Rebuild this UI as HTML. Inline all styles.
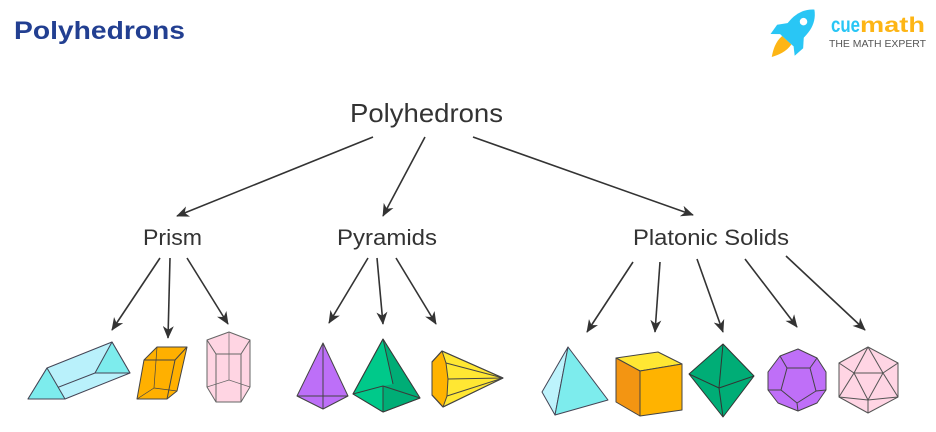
<!DOCTYPE html>
<html>
<head>
<meta charset="utf-8">
<style>
  html,body{margin:0;padding:0;background:#fff;}
  body{width:936px;height:432px;overflow:hidden;}
  svg{display:block;}
  text{font-family:"Liberation Sans", sans-serif;}
</style>
</head>
<body>
<svg width="936" height="432" viewBox="0 0 936 432" xmlns="http://www.w3.org/2000/svg">
  <defs>
    <marker id="ah" viewBox="0 0 14 12" refX="13" refY="6" markerWidth="13" markerHeight="11" markerUnits="userSpaceOnUse" orient="auto">
      <path d="M0,0 L14,6 L0,12 L4,6 Z" fill="#333"/>
    </marker>
  </defs>
  <rect width="936" height="432" fill="#fff"/>

  <!-- Title -->
  <text x="14" y="39" font-size="25" font-weight="bold" fill="#223f91" textLength="171" lengthAdjust="spacingAndGlyphs">Polyhedrons</text>

  <!-- Logo -->
  <g transform="translate(796,30) rotate(42) scale(1.25)">
    <path d="M-5,11 L5,11 C6,18 3,24 0,29 C-3,24 -6,18 -5,11 Z" fill="#fdb515"/>
    <path d="M-6,-3 L-14,7 L-13,16 L-5,9 Z" fill="#29c6f5"/>
    <path d="M6,-3 L14,7 L13,16 L5,9 Z" fill="#29c6f5"/>
    <path d="M0,-22 C10,-14 10,-2 7,11 L-7,11 C-10,-2 -10,-14 0,-22 Z" fill="#29c6f5"/>
    <circle cx="0" cy="-9" r="3" fill="#fff"/>
  </g>
  <text x="831" y="32" font-size="21" font-weight="bold"><tspan fill="#29c6f5" textLength="29" lengthAdjust="spacingAndGlyphs">cue</tspan><tspan fill="#fdb515" x="860" textLength="65" lengthAdjust="spacingAndGlyphs">math</tspan></text>
  <text x="829" y="47" font-size="10" fill="#555" textLength="97" lengthAdjust="spacingAndGlyphs">THE MATH EXPERT</text>

  <!-- Labels -->
  <text x="350" y="122" font-size="26" fill="#333" textLength="153" lengthAdjust="spacingAndGlyphs">Polyhedrons</text>
  <text x="143" y="245" font-size="22" fill="#333" textLength="59" lengthAdjust="spacingAndGlyphs">Prism</text>
  <text x="337" y="245" font-size="22" fill="#333" textLength="100" lengthAdjust="spacingAndGlyphs">Pyramids</text>
  <text x="633" y="245" font-size="22" fill="#333" textLength="156" lengthAdjust="spacingAndGlyphs">Platonic Solids</text>

  <!-- Arrows -->
  <g stroke="#333" stroke-width="1.6" fill="none" marker-end="url(#ah)">
    <line x1="373" y1="137" x2="177" y2="216"/>
    <line x1="425" y1="137" x2="383" y2="216"/>
    <line x1="473" y1="137" x2="693" y2="215"/>

    <line x1="160" y1="258" x2="112" y2="330"/>
    <line x1="170" y1="258" x2="168" y2="338"/>
    <line x1="187" y1="258" x2="228" y2="324"/>

    <line x1="368" y1="258" x2="329" y2="323"/>
    <line x1="377" y1="258" x2="383" y2="324"/>
    <line x1="396" y1="258" x2="436" y2="324"/>

    <line x1="633" y1="262" x2="587" y2="332"/>
    <line x1="660" y1="262" x2="655" y2="332"/>
    <line x1="697" y1="259" x2="723" y2="332"/>
    <line x1="745" y1="259" x2="797" y2="327"/>
    <line x1="786" y1="256" x2="865" y2="330"/>
  </g>

  <!-- Triangular prism -->
  <g stroke="#445" stroke-width="1" stroke-linejoin="round">
    <polygon points="28,399 47,368 112,342 130,373 65,399" fill="#b9f1fb"/>
    <line x1="28" y1="399" x2="95" y2="373"/>
    <polygon points="95,373 112,342 130,373" fill="#7deced"/>
    <polygon points="28,399 47,368 65,399" fill="#7deced"/>
  </g>

  <!-- Parallelepiped -->
  <g stroke="#444" stroke-width="1" stroke-linejoin="round">
    <polygon points="137,399 144,360 157,347 187,347 177,391 167,399" fill="#ffb000"/>
    <polyline points="144,360 175,360 187,347" fill="none"/>
    <line x1="175" y1="360" x2="167" y2="399"/>
    <polyline points="157,347 154,388 177,391" fill="none" stroke-width="0.7"/>
    <line x1="154" y1="388" x2="137" y2="399" stroke-width="0.7"/>
  </g>

  <!-- Pentagonal prism -->
  <g stroke="#666" stroke-width="1" stroke-linejoin="round">
    <polygon points="207,340 229,332 250,340 250,387 241,402 216,402 207,387" fill="#ffd5e3"/>
    <polyline points="207,340 216,354 241,354 250,340" fill="none"/>
    <line x1="216" y1="354" x2="216" y2="402"/>
    <line x1="241" y1="354" x2="241" y2="402"/>
    <line x1="229" y1="332" x2="229" y2="380" stroke-width="0.7"/>
    <polyline points="207,387 229,380 250,387" fill="none" stroke-width="0.7"/>
  </g>

  <!-- Purple pyramid -->
  <g stroke="#444" stroke-width="1" stroke-linejoin="round">
    <polygon points="323,343 297,396 323,409 348,396" fill="#bd6ff8"/>
    <line x1="323" y1="343" x2="323" y2="409"/>
    <line x1="297" y1="396" x2="348" y2="396"/>
  </g>

  <!-- Green pyramid -->
  <g stroke="#3a3a3a" stroke-width="1" stroke-linejoin="round">
    <polygon points="383,339 353,394 383,412 420,398" fill="#00c98a"/>
    <polygon points="383,339 393,384 383,386 383,412 420,398" fill="#00ad76" stroke="none"/>
    <polygon points="383,339 353,394 383,412 420,398" fill="none"/>
    <line x1="383" y1="339" x2="393" y2="384"/>
    <polyline points="353,394 383,386 420,398" fill="none"/>
    <line x1="383" y1="386" x2="383" y2="412"/>
  </g>

  <!-- Yellow pyramid (hexagonal base) -->
  <g stroke="#444" stroke-width="1" stroke-linejoin="round">
    <polygon points="442,351 432,362 432,395 443,407 503,378" fill="#ffe733"/>
    <polygon points="442,351 432,362 432,395 443,407 447,396 448,379 446,363" fill="#ffb300"/>
    <line x1="446" y1="363" x2="503" y2="378"/>
    <line x1="448" y1="379" x2="503" y2="378"/>
    <line x1="447" y1="396" x2="503" y2="378"/>
    <polygon points="442,351 432,362 432,395 443,407 503,378" fill="none"/>
  </g>

  <!-- Tetrahedron -->
  <g stroke="#445" stroke-width="1" stroke-linejoin="round">
    <polygon points="568,347 542,392 555,415" fill="#bdf3fc"/>
    <polygon points="568,347 555,415 608,400" fill="#7deced"/>
  </g>

  <!-- Cube -->
  <g stroke="#444" stroke-width="1" stroke-linejoin="round">
    <polygon points="616,358 658,352 682,364 640,371" fill="#ffe733"/>
    <polygon points="616,358 640,371 640,416 616,402" fill="#f39512"/>
    <polygon points="640,371 682,364 682,410 640,416" fill="#ffb300"/>
  </g>

  <!-- Octahedron -->
  <g stroke="#333" stroke-width="1" stroke-linejoin="round">
    <polygon points="723,344 754,376 723,417 689,374" fill="#00ad76"/>
    <line x1="723" y1="344" x2="719" y2="388"/>
    <line x1="689" y1="374" x2="719" y2="388"/>
    <line x1="719" y1="388" x2="754" y2="376"/>
    <line x1="719" y1="388" x2="723" y2="417"/>
  </g>

  <!-- Dodecahedron -->
  <g stroke="#444" stroke-width="1" stroke-linejoin="round">
    <polygon points="798,349 817,358 826,372 826,390 817,403 798,411 778,403 768,390 768,372 780,356" fill="#bf6ff8"/>
    <polygon points="787,368 810,368 816,391 797,403 781,390" fill="none"/>
    <line x1="780" y1="356" x2="787" y2="368"/>
    <line x1="817" y1="358" x2="810" y2="368"/>
    <line x1="826" y1="390" x2="816" y2="391"/>
    <line x1="798" y1="411" x2="797" y2="403"/>
    <line x1="768" y1="390" x2="781" y2="390"/>
  </g>

  <!-- Icosahedron -->
  <g stroke="#555" stroke-width="1" stroke-linejoin="round">
    <polygon points="868,347 898,363 898,397 868,413 839,397 839,363" fill="#ffd5e4"/>
    <polygon points="854,373 883,373 868,400" fill="none"/>
    <line x1="868" y1="347" x2="854" y2="373"/>
    <line x1="868" y1="347" x2="883" y2="373"/>
    <line x1="854" y1="373" x2="839" y2="363"/>
    <line x1="854" y1="373" x2="839" y2="397"/>
    <line x1="883" y1="373" x2="898" y2="363"/>
    <line x1="883" y1="373" x2="898" y2="397"/>
    <line x1="868" y1="400" x2="839" y2="397"/>
    <line x1="868" y1="400" x2="898" y2="397"/>
    <line x1="868" y1="400" x2="868" y2="413"/>
  </g>
</svg>
</body>
</html>
